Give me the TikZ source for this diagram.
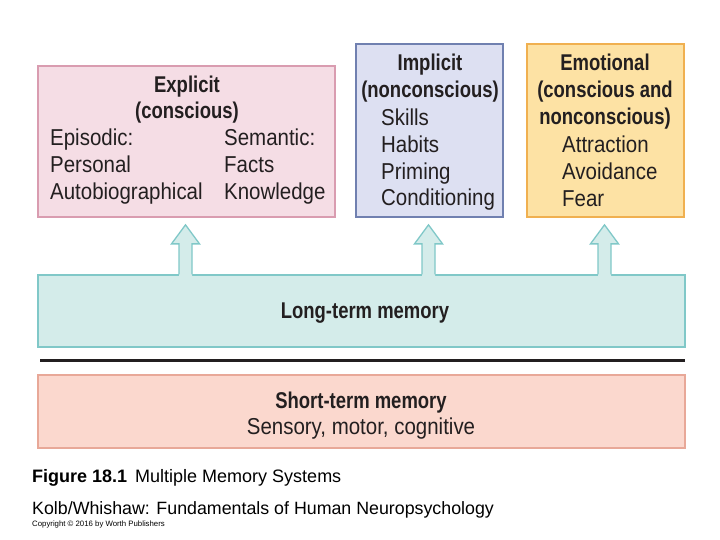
\documentclass[tikz,border=0pt]{standalone}
\usepackage{fontspec}
\setmainfont{Liberation Sans}
\newfontfamily\cond[FakeStretch=0.89]{Liberation Sans}
\newfontfamily\condb[FakeStretch=0.81]{Liberation Sans Bold}
\usetikzlibrary{calc}
\definecolor{txt}{HTML}{231F20}
\definecolor{exfill}{HTML}{F5DDE5}
\definecolor{exdraw}{HTML}{D99CB0}
\definecolor{imfill}{HTML}{DDE0F2}
\definecolor{imdraw}{HTML}{7080B0}
\definecolor{emfill}{HTML}{FDE2A4}
\definecolor{emdraw}{HTML}{F0B050}
\definecolor{ltfill}{HTML}{D4ECEA}
\definecolor{ltdraw}{HTML}{80C8C8}
\definecolor{stfill}{HTML}{FBD8CE}
\definecolor{stdraw}{HTML}{E8A898}
\tikzset{
  box/.style={rectangle, inner sep=0pt, line width=1.3pt},
  hd/.style={font=\condb\fontsize{22.8}{23}\selectfont, text=txt, inner sep=0pt, anchor=base},
  bd/.style={font=\cond\fontsize{23}{23}\selectfont, text=txt, inner sep=0pt, anchor=base west},
  bdc/.style={font=\cond\fontsize{23}{23}\selectfont, text=txt, inner sep=0pt, anchor=base},
  captxt/.style={text=black, inner sep=0pt, anchor=base west}
}
\begin{document}
\begin{tikzpicture}[x=1pt,y=-1pt]
\useasboundingbox[fill=white] (0,0) rectangle (720,540);
% boxes
\node[box, fill=exfill, draw=exdraw, minimum width=297pt, minimum height=151pt] (ex) at (186.5,141.5) {};
\node[box, fill=imfill, draw=imdraw, minimum width=147pt, minimum height=173pt] (im) at (429.5,130.5) {};
\node[box, fill=emfill, draw=emdraw, minimum width=157pt, minimum height=173pt] (em) at (605.5,130.5) {};
\node[box, fill=ltfill, draw=ltdraw, minimum width=647pt, minimum height=72pt] (lt) at (361.5,311) {};
\node[box, fill=stfill, draw=stdraw, minimum width=647pt, minimum height=73pt] (st) at (361.5,411.5) {};
% arrows from long-term memory
\foreach \b in {ex,im,em}{
  \coordinate (a\b) at ($(\b.south |- lt.north)+(-1,0)$);
  \fill[ltfill] ($(a\b)+(-6.5,1.5)$) -- ++(0,-32) -- ++(-7.5,0) -- ++(14,-19) -- ++(14,19) -- ++(-7.5,0) -- ++(0,32) -- cycle;
  \draw[ltdraw, line width=1.3pt, line join=miter] ($(a\b)+(-6.5,0)$) -- ++(0,-30.5) -- ++(-7.5,0) -- ++(14,-19) -- ++(14,19) -- ++(-7.5,0) -- ++(0,30.5);
}
% divider
\coordinate (l1) at (40,360);
\coordinate (l2) at (685,360);
\draw[line width=3pt, txt] (l1) -- (l2);
% Explicit
\node[hd] (t1) at (187,93) {Explicit};
\node[hd] (t2) at (187,119) {(conscious)};
\node[bd] (t3) at (50,146) {Episodic:};
\node[bd] (t4) at (50,173) {Personal};
\node[bd] (t5) at (50,200) {Autobiographical};
\node[bd] (t6) at (224,146) {Semantic:};
\node[bd] (t7) at (224,173) {Facts};
\node[bd] (t8) at (224,200) {Knowledge};
% Implicit
\node[hd] (i1) at (430,71) {Implicit};
\node[hd] (i2) at (430,98) {(nonconscious)};
\node[bd] (i3) at (381,126) {Skills};
\node[bd] (i4) at (381,153) {Habits};
\node[bd] (i5) at (381,180) {Priming};
\node[bd] (i6) at (381,206) {Conditioning};
% Emotional
\node[hd] (e1) at (605,71) {Emotional};
\node[hd] (e2) at (605,98) {(conscious and};
\node[hd] (e3) at (605,125) {nonconscious)};
\node[bd] (e4) at (562,153) {Attraction};
\node[bd] (e5) at (562,180) {Avoidance};
\node[bd] (e6) at (562,207) {Fear};
% memory labels
\node[hd] (lt1) at (365,318) {Long-term memory};
\node[hd] (st1) at (361,408) {Short-term memory};
\node[bdc] (st2) at (361,434) {Sensory, motor, cognitive};
% caption
\node[captxt, font=\fontsize{18}{18}\selectfont] (c1) at (32,482) {\textbf{Figure 18.1}\hspace{8pt}Multiple Memory Systems};
\node[captxt, font=\fontsize{17.8}{18}\selectfont] (c2) at (32,514) {Kolb/Whishaw: Fundamentals of Human Neuropsychology};
\node[captxt, font=\fontsize{7.8}{8}\selectfont] (c3) at (32,526) {Copyright \textcopyright{} 2016 by Worth Publishers};
\end{tikzpicture}
\end{document}
